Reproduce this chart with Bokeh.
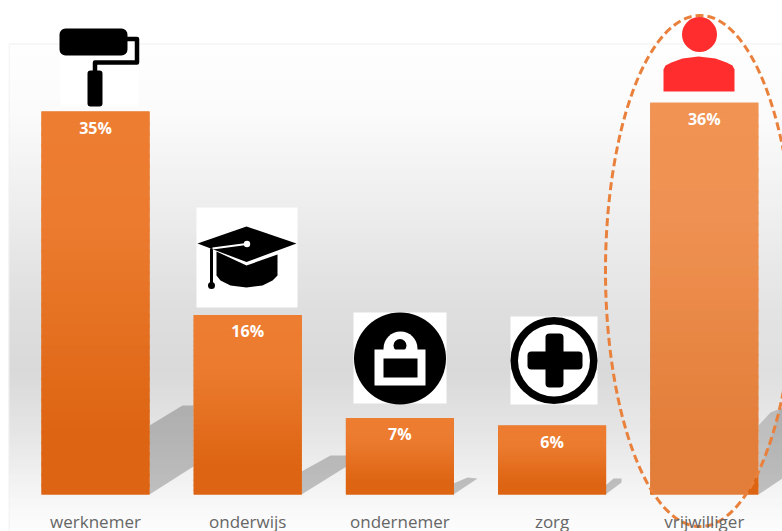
from bokeh.plotting import figure
from bokeh.models import Range1d, FixedTicker, ColumnDataSource, LinearAxis
from bokeh.core.properties import value
from bokeh.embed import file_html
from bokeh.resources import INLINE

categories = ["werknemer", "onderwijs", "ondernemer", "zorg", "vrijwilliger"]
shares = [35.0, 16.4, 7.0, 6.3, 35.8]
share_labels = ["35%", "16%", "7%", "6%", "36%"]

FONT = "Open Sans"
UNIT = 10.94
SPACING = 152.2
X0, BASE = 95.0, 494.0
L, R, T, B = 8, 782, 8, 531


def hexc(c):
    return "#%02x%02x%02x" % tuple(int(round(v)) for v in c)


def lerp_stops(stops, t):
    for (t0, c0), (t1, c1) in zip(stops, stops[1:]):
        if t <= t1:
            f = 0 if t1 == t0 else max(0, (t - t0) / (t1 - t0))
            return tuple(a + (b - a) * f for a, b in zip(c0, c1))
    return stops[-1][1]


p = figure(
    width=R - L, height=B - T, output_backend="svg", toolbar_location=None,
    x_range=Range1d((L - X0) / SPACING, (R - X0) / SPACING),
    y_range=Range1d((BASE - B) / UNIT, (BASE - T) / UNIT),
    x_axis_type=None, y_axis_type=None, min_border=0,
    outline_line_color=None, background_fill_color="white", border_fill_color="white",
)
p.styles = {"position": "absolute", "left": "8px", "top": "8px"}
p.grid.visible = False
p.extra_x_ranges["px"] = Range1d(L, R)
p.extra_y_ranges["px"] = Range1d(B, T)
PX = dict(x_range_name="px", y_range_name="px")

# backdrop gradient
g = lambda v: (v, v, v)
bg = [(43, g(254)), (110, g(251)), (200, g(238)), (300, g(223)), (370, g(217)),
      (430, g(229)), (500, g(247)), (531, g(253))]
ys = list(range(43, 531, 3))
p.quad(left=L, right=R, top=ys, bottom=[y + 4 for y in ys],
       fill_color=[hexc(lerp_stops(bg, y)) for y in ys], line_color=None, **PX)
p.line([L + .5, L + .5, R], [B, 43.5, 43.5], line_color="#efefef", line_width=1, **PX)

# cast shadows
shadows = [
    ([149, 193, 193, 182, 149], [494, 466, 405, 405, 425]),
    ([301, 346, 346, 330, 301], [494, 466, 455, 455, 471]),
    ([453, 477, 467, 453], [494, 478, 477, 483]),
    ([605, 621, 621, 613, 605], [494, 482, 478, 478, 485]),
    ([758, 782, 782, 770, 758], [494, 478, 407, 412, 425]),
]
p.patches([s[0] for s in shadows], [s[1] for s in shadows], fill_color="#000000",
          fill_alpha=0.22, line_color=None, **PX)

# bars
source = ColumnDataSource(dict(x=list(range(5)), top=shares, label=share_labels))
BAR_W = 108 / SPACING
p.vbar(x="x", top="top", bottom=0, width=BAR_W, source=source, fill_color="#e06a18",
       line_color=None)
bar_stops = [(0, (237, 125, 49)), (.3, (236, 123, 47)), (.85, (221, 100, 18)), (1, (221, 100, 18))]
N = 36
for i, v in enumerate(shares):
    tops = [v * (1 - k / N) for k in range(N)]
    bots = [max(0, v * (1 - (k + 1.3) / N)) for k in range(N)]
    p.quad(left=i - BAR_W / 2, right=i + BAR_W / 2, top=tops, bottom=bots,
           fill_color=[hexc(lerp_stops(bar_stops, (k + .5) / N)) for k in range(N)], line_color=None)

# value labels
p.text(x="x", y="top", text="label", source=source, y_offset=16, text_color="white",
       text_font=value(FONT), text_font_style="bold", text_font_size="16px",
       text_align="center", text_baseline="middle")


def box(l, r, t, b, color="white", radius=0):
    p.quad(left=l, right=r, top=t, bottom=b, fill_color=color, line_color=None,
           border_radius=radius, **PX)


def disc(x, y, r, color="black"):
    p.circle(x=x, y=y, radius=r, fill_color=color, line_color=None, **PX)


# roller icon
box(60, 138, 43, 106)
box(59, 127, 28, 55, "black", 6)
p.line([126, 136.5, 136.5, 94.5, 94.5], [38.5, 38.5, 62, 62, 72], line_color="black",
       line_width=4.5, line_join="round", **PX)
box(87, 102, 70, 106, "black", 3)

# graduation cap icon
box(196, 297, 207, 307)
p.patch([216, 246, 277, 277, 272, 262, 246, 230, 220, 216],
        [251, 265, 254, 275, 280, 285, 287, 285, 280, 275],
        fill_color="black", line_color=None, **PX)
p.patch([197, 246, 296, 246], [243, 226, 243, 261.5], fill_color="black", line_color=None, **PX)
p.line([211, 211], [248, 285], line_color="black", line_width=3, **PX)
p.line([246, 212], [243.5, 248], line_color="white", line_width=2.2, **PX)
disc(246.5, 243.5, 3.2, "white")
disc(211, 285, 3.5)

# lock icon
box(353, 446, 312, 403)
disc(399.5, 358, 46)
disc(400, 348, 17, "white")
disc(399.5, 345, 6.5)
box(374, 425, 349, 385)
box(383, 417, 358, 377, "black")

# plus icon
box(510, 597, 316, 404)
disc(553.5, 360, 43.5)
disc(553.5, 360, 36, "white")
box(527, 582, 351, 369, "black", 4)
box(545, 563, 333, 387, "black", 4)

# highlight ring
p.ellipse(x=699.5, y=270.5, width=189, height=511, fill_color="white", fill_alpha=0.17,
          line_color="#e9813c", line_width=3, line_dash="8 4", **PX)

# person icon, above the ring
RED = "#ff2d2d"
disc(699, 34, 17.5, RED)
p.patch([663, 663, 665, 671, 682, 698, 715, 726, 732, 734, 734],
        [91, 69, 65, 62, 58, 56, 58, 62, 65, 69, 91],
        fill_color=RED, line_color=None, **PX)

# category axis
axis = LinearAxis(
    ticker=FixedTicker(ticks=list(range(5))),
    major_label_overrides={i: c for i, c in enumerate(categories)},
    fixed_location=(BASE - 503) / UNIT,
    axis_line_color=None, major_tick_line_color=None, minor_tick_line_color=None,
    major_label_text_font=FONT, major_label_text_font_size="17px",
    major_label_text_color="#666666", major_label_standoff=0,
)
p.add_layout(axis, "below")

open("out.html", "w").write(file_html(p, INLINE))
